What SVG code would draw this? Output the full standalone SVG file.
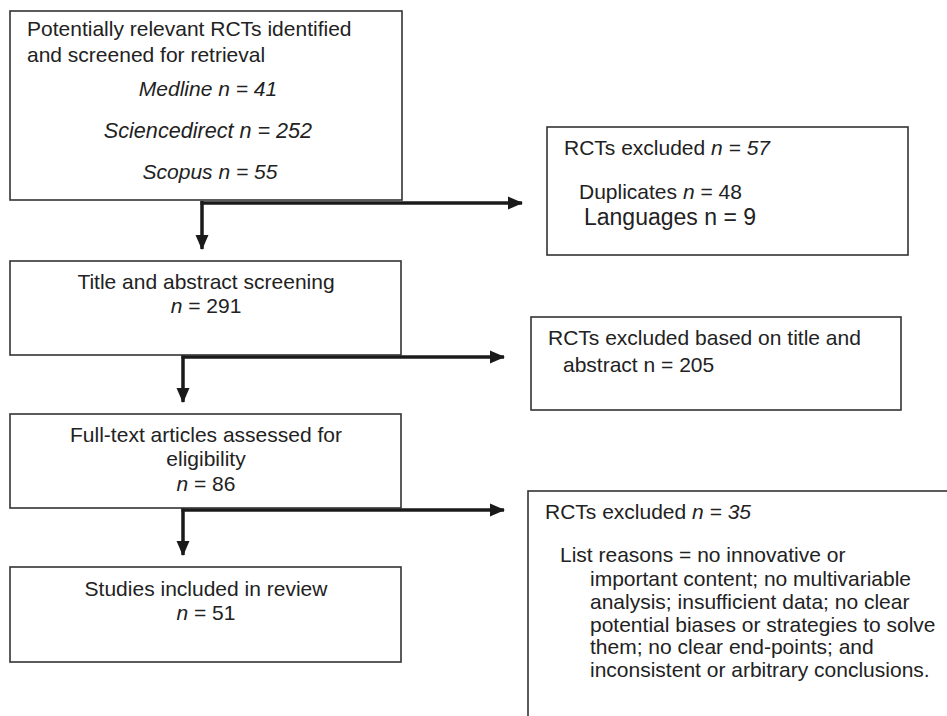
<svg xmlns="http://www.w3.org/2000/svg" width="947" height="716" viewBox="0 0 947 716">
<defs>
<marker id="ah" markerUnits="userSpaceOnUse" markerWidth="15" markerHeight="14" refX="14" refY="7" orient="auto">
<path d="M0,0.5 L15,7 L0,13.5 Z" fill="#1a1a1a"/>
</marker>
<style>
.box{fill:#fff;stroke:#333;stroke-width:1.6}
.t{font-family:"Liberation Sans",Arial,sans-serif;font-size:21px;fill:#222}
.c{text-anchor:middle}
.i{font-style:italic}
.con{fill:none;stroke:#1a1a1a;stroke-width:3.5;stroke-linecap:butt}
</style>
</defs>
<rect width="947" height="716" fill="#fff"/>
<g id="connectors">
<path class="con" d="M200.5,203 L522,203" marker-end="url(#ah)"/>
<path class="con" d="M202,201 L202,249" marker-end="url(#ah)"/>
<path class="con" d="M181.5,357 L504,357" marker-end="url(#ah)"/>
<path class="con" d="M183,355 L183,402" marker-end="url(#ah)"/>
<path class="con" d="M181.5,510 L504,510" marker-end="url(#ah)"/>
<path class="con" d="M183,508 L183,555" marker-end="url(#ah)"/>
</g>
<g id="n1">
<rect class="box" x="10" y="11" width="392" height="189"/>
<text class="t" x="27" y="36">Potentially relevant RCTs identified</text>
<text class="t" x="27" y="62">and screened for retrieval</text>
<text class="t c i" x="208" y="96">Medline n = 41</text>
<text class="t c i" x="208" y="138" style="font-size:21.6px">Sciencedirect n = 252</text>
<text class="t c i" x="210" y="179">Scopus n = 55</text>
</g>
<g id="n2">
<rect class="box" x="547" y="127" width="361" height="128"/>
<text class="t" x="564" y="155">RCTs excluded <tspan class="i">n = 57</tspan></text>
<text class="t" x="579" y="199">Duplicates <tspan class="i">n</tspan> = 48</text>
<text class="t" x="584" y="225" style="font-size:23px">Languages n = 9</text>
</g>
<g id="n3">
<rect class="box" x="10" y="261" width="391" height="94"/>
<text class="t c" x="206" y="289">Title and abstract screening</text>
<text class="t c" x="206" y="313"><tspan class="i">n</tspan> = 291</text>
</g>
<g id="n4">
<rect class="box" x="531" y="317" width="370" height="93"/>
<text class="t" x="548" y="345">RCTs excluded based on title and</text>
<text class="t" x="563" y="372">abstract n = 205</text>
</g>
<g id="n5">
<rect class="box" x="10" y="414" width="391" height="94"/>
<text class="t c" x="206" y="442">Full-text articles assessed for</text>
<text class="t c" x="206" y="466">eligibility</text>
<text class="t c" x="206" y="491"><tspan class="i">n</tspan> = 86</text>
</g>
<g id="n6">
<rect class="box" x="10" y="567" width="391" height="95"/>
<text class="t c" x="206" y="596">Studies included in review</text>
<text class="t c" x="206" y="620"><tspan class="i">n</tspan> = 51</text>
</g>
<g id="n7">
<rect class="box" x="528" y="491" width="440" height="250"/>
<text class="t" x="545" y="519">RCTs excluded <tspan class="i">n = 35</tspan></text>
<text class="t" x="560" y="562">List reasons = no innovative or</text>
<text class="t" x="590" y="586">important content; no multivariable</text>
<text class="t" x="590" y="609">analysis; insufficient data; no clear</text>
<text class="t" x="590" y="632">potential biases or strategies to solve</text>
<text class="t" x="590" y="654">them; no clear end-points; and</text>
<text class="t" x="590" y="677">inconsistent or arbitrary conclusions.</text>
</g>
</svg>
